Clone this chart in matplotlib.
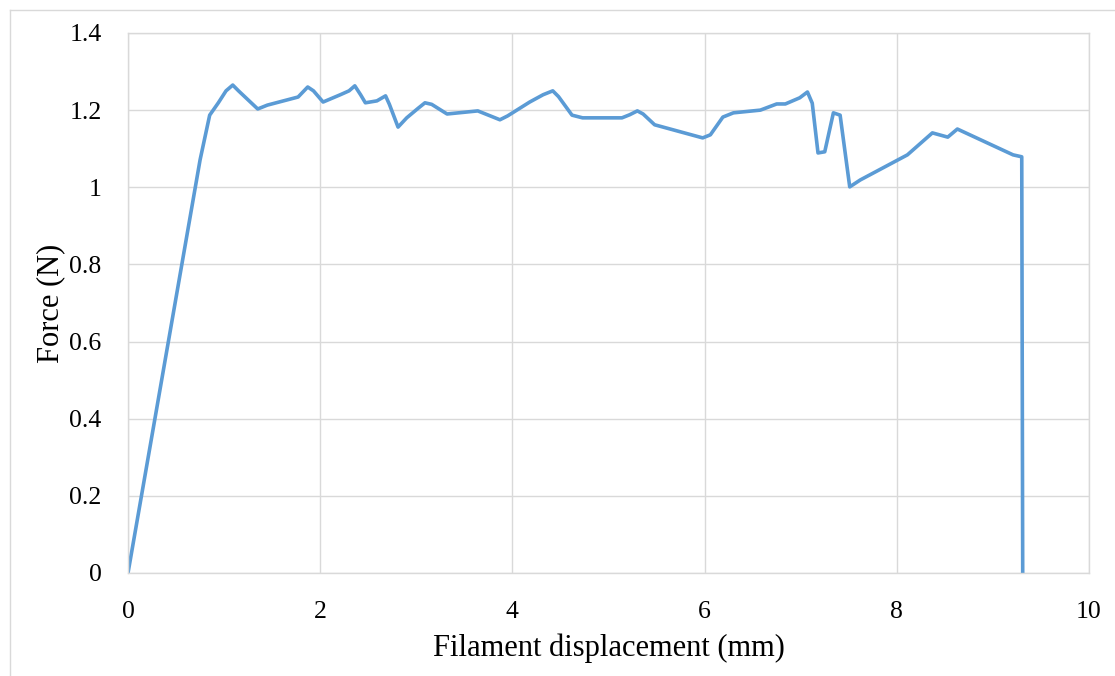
import matplotlib.pyplot as plt
from matplotlib.lines import Line2D

# filament displacement (mm) and force (N)
disp = [0.0, 0.75, 0.85, 0.94, 1.02, 1.09, 1.15, 1.35, 1.45, 1.77, 1.87, 1.93,
        2.03, 2.21, 2.30, 2.36, 2.42, 2.47, 2.59, 2.68, 2.72, 2.81, 2.90, 3.02,
        3.09, 3.16, 3.32, 3.64, 3.72, 3.87, 3.95, 4.18, 4.32, 4.42, 4.48, 4.62,
        4.73, 5.14, 5.22, 5.30, 5.36, 5.48, 5.98, 6.06, 6.19, 6.30, 6.58, 6.75,
        6.84, 6.99, 7.07, 7.12, 7.18, 7.25, 7.34, 7.41, 7.51, 7.62, 8.11, 8.37,
        8.53, 8.63, 9.21, 9.30, 9.31]
force = [0.0, 1.071, 1.187, 1.219, 1.250, 1.265, 1.250, 1.203, 1.213, 1.234, 1.26, 1.250,
         1.221, 1.240, 1.250, 1.263, 1.240, 1.219, 1.224, 1.237, 1.215, 1.156, 1.180, 1.205,
         1.219, 1.215, 1.190, 1.198, 1.190, 1.175, 1.185, 1.221, 1.240, 1.250, 1.235, 1.187,
         1.180, 1.180, 1.188, 1.198, 1.190, 1.162, 1.128, 1.136, 1.182, 1.193, 1.200, 1.216,
         1.216, 1.232, 1.247, 1.218, 1.089, 1.092, 1.193, 1.187, 1.001, 1.019, 1.084, 1.141,
         1.130, 1.151, 1.084, 1.079, 0.0]

xticks = [0, 2, 4, 6, 8, 10]
yticks = [0, 0.2, 0.4, 0.6, 0.8, 1.0, 1.2, 1.4]
ytick_labels = ["0", "0.2", "0.4", "0.6", "0.8", "1", "1.2", "1.4"]

plt.rcParams['font.family'] = ['Liberation Serif', 'DejaVu Serif']

fig = plt.figure(figsize=(11.15, 6.76), dpi=100)
ax = fig.add_axes([0.1148, 0.1524, 0.9767 - 0.1148, 0.9512 - 0.1524])

ax.plot(disp, force, color="#5B9BD5", lw=2.6, solid_joinstyle="round")

ax.set_xlim(0, 10)
ax.set_ylim(0, 1.4)
ax.set_xticks(xticks)
ax.set_yticks(yticks)
ax.set_yticklabels(ytick_labels)
ax.tick_params(length=0, labelsize=18.5)
ax.tick_params(axis="x", pad=20)
ax.tick_params(axis="y", pad=19)
ax.grid(True, color="#D9D9D9", lw=1)
ax.set_axisbelow(True)
for s in ax.spines.values():
    s.set_color("#D9D9D9")
    s.set_linewidth(1)

ax.set_xlabel("Filament displacement (mm)", fontsize=22, labelpad=8)
ax.set_ylabel("Force (N)", fontsize=22, labelpad=3)

# chart area border (only left and top visible in the reference)
fig.add_artist(Line2D([10 / 1115, 10 / 1115], [0, 1 - 10 / 676], transform=fig.transFigure,
                      color="#D9D9D9", lw=1))
fig.add_artist(Line2D([10 / 1115, 1], [1 - 10 / 676, 1 - 10 / 676], transform=fig.transFigure,
                      color="#D9D9D9", lw=1))

fig.savefig("out.png", dpi=100)
